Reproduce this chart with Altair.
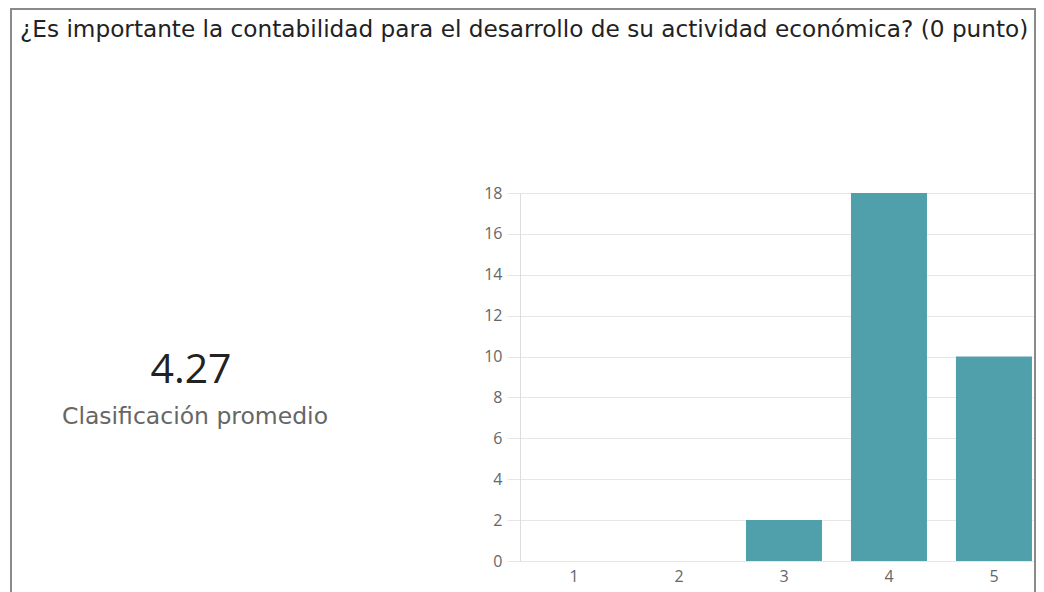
import altair as alt
import pandas as pd

# ---- data ----
ratings = ["1", "2", "3", "4", "5"]
counts = [0, 0, 2, 18, 10]
y_ticks = [0, 2, 4, 6, 8, 10, 12, 14, 16, 18]
question = "¿Es importante la contabilidad para el desarrollo de su actividad económica? (0 punto)"
avg_value = ["4.27"]
avg_label = ["Clasificación promedio"]

df = pd.DataFrame({"rating": ratings, "count": counts})
one = pd.DataFrame({"k": [0]})

W, H = 513, 368
FONT = "Open Sans"
WIDE = "DejaVu Sans"
GRID = "#e6e6e6"

bars = alt.Chart(df).mark_bar(color="#50a0ab").encode(
    x=alt.X(
        "rating:N",
        sort=ratings,
        scale=alt.Scale(paddingInner=0.276, paddingOuter=0.081, align=0.94),
        axis=alt.Axis(
            title=None, labelAngle=0, ticks=False, domain=True, domainColor=GRID,
            labelFont=FONT, labelFontSize=16, labelColor="#666666", labelPadding=7,
        ),
    ),
    y=alt.Y(
        "count:Q",
        scale=alt.Scale(domain=[0, 18], nice=False),
        axis=alt.Axis(
            title=None, values=y_ticks, grid=True, gridColor=GRID, domain=True,
            domainColor="#dddddd", ticks=True, tickSize=13, tickColor=GRID,
            labelFont=FONT, labelFontSize=16, labelColor="#666666", labelPadding=5,
        ),
    ),
)

border = alt.Chart(one).mark_rect(fill="transparent", stroke="#8a8a8a", strokeWidth=2).encode(
    x=alt.value(-509), x2=alt.value(515), y=alt.value(-184), y2=alt.value(420)
)

title = alt.Chart(one).mark_text(
    text=question, font=WIDE, fontSize=23.2, color="#222222", align="left", baseline="middle"
).encode(x=alt.value(-500), y=alt.value(-163))

big = alt.Chart(one).mark_text(
    text=avg_value[0], font=FONT, fontSize=41, color="#222222", align="center", baseline="middle"
).encode(x=alt.value(-329), y=alt.value(178))

sub = alt.Chart(one).mark_text(
    text=avg_label[0], font=WIDE, fontSize=23.5, color="#666666", align="center", baseline="middle"
).encode(x=alt.value(-325), y=alt.value(224))

chart = alt.layer(border, bars, title, big, sub).properties(
    width=W, height=H,
    padding={"left": 512, "top": 185, "right": 3, "bottom": 31},
    autosize=alt.AutoSizeParams(type="none"),
    background="white",
).configure_view(stroke=None)

chart.save("out.html", embed_options={"renderer": "svg", "actions": False})
